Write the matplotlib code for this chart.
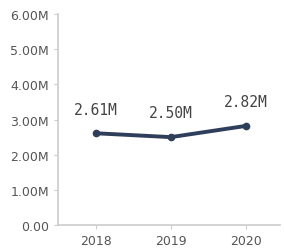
import matplotlib.pyplot as plt
from matplotlib.ticker import FuncFormatter

# data
years = [2018, 2019, 2020]
values = [2.61e6, 2.50e6, 2.82e6]
labels = ['2.61M', '2.50M', '2.82M']
yticks = [0, 1e6, 2e6, 3e6, 4e6, 5e6, 6e6]

plt.rcParams['font.family'] = ['Liberation Sans Narrow', 'DejaVu Sans']

fig = plt.figure(figsize=(2.84, 2.53), dpi=100)
ax = fig.add_axes([0.204, 0.107, 0.782, 0.833])

ax.plot(years, values, color='#2f3e5a', linewidth=2.8, marker='o', markersize=4.5,
        solid_capstyle='round')
for x, v, t in zip(years, values, labels):
    ax.annotate(t, (x, v), xytext=(0, 12), textcoords='offset points', ha='center',
                va='bottom', fontsize=10.5, color='#444444', family=['DejaVu Sans Mono'])

ax.set_xlim(2017.5, 2020.45)
ax.set_ylim(0, 6e6)
ax.set_xticks(years)
ax.set_yticks(yticks)
ax.yaxis.set_major_formatter(FuncFormatter(lambda v, p: '0.00' if v == 0 else f'{v/1e6:.2f}M'))

for s in ['top', 'right']:
    ax.spines[s].set_visible(False)
for s in ['left', 'bottom']:
    ax.spines[s].set_color('#cccccc')
    ax.spines[s].set_linewidth(1.2)
ax.tick_params(colors='#cccccc', labelcolor='#555555', labelsize=9, length=3)

fig.savefig('out.png', dpi=100)
